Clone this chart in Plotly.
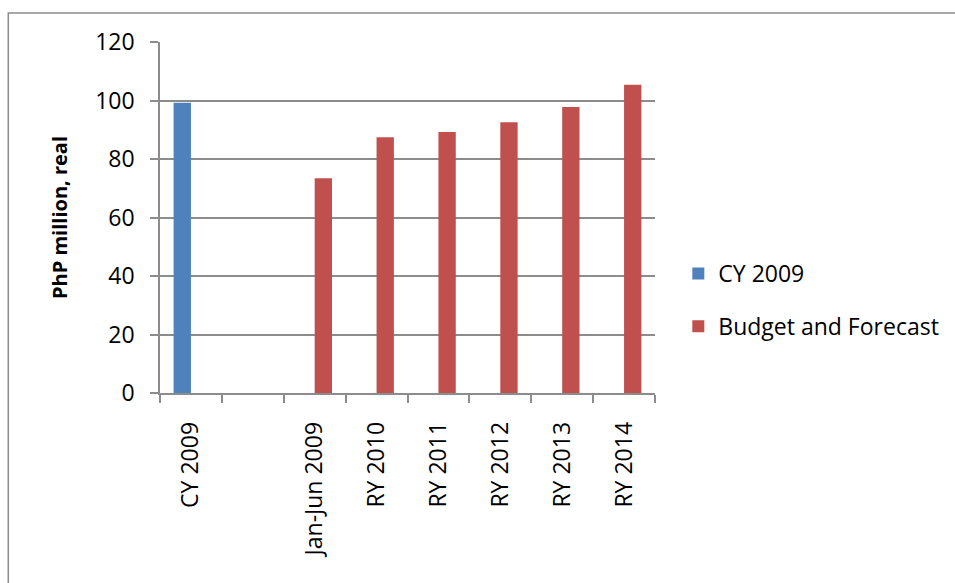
import plotly.graph_objects as go

# Categories along the x axis (one empty slot between the two 2009 groups)
categories = ["CY 2009", " ", "Jan-Jun 2009", "RY 2010", "RY 2011", "RY 2012", "RY 2013", "RY 2014"]

# Series values, PhP million (real)
cy2009 = [99.2, None, None, None, None, None, None, None]
budget_forecast = [None, None, 73.4, 87.4, 89.2, 92.6, 97.8, 105.4]

y_ticks = [0, 20, 40, 60, 80, 100, 120]

FONT = "Open Sans"
GRID = "#8c8c8c"

fig = go.Figure()
fig.add_trace(go.Bar(
    x=categories, y=cy2009, name="CY 2009",
    marker=dict(color="#4F81BD", line=dict(width=0)),
    legendgroup="a",
))
fig.add_trace(go.Bar(
    x=categories, y=budget_forecast, name="Budget and Forecast",
    marker=dict(color="#C0504D", line=dict(width=0)),
    legendgroup="b",
))

fig.update_layout(
    width=955, height=583,
    margin=dict(l=160, r=299, t=42, b=190),
    paper_bgcolor="white", plot_bgcolor="white",
    barmode="group", bargap=0.44, bargroupgap=0,
    font=dict(family=FONT, size=23, color="black"),
    showlegend=True,
    legend=dict(
        x=1.045, y=0.265, xanchor="left", yanchor="middle",
        traceorder="grouped", tracegroupgap=20,
        font=dict(family=FONT, size=23, color="black"),
        bgcolor="rgba(0,0,0,0)",
    ),
    xaxis=dict(
        type="category", categoryorder="array", categoryarray=categories,
        showline=True, linecolor=GRID, linewidth=1.5,
        ticks="outside", tickson="boundaries", ticklen=8, tickcolor=GRID, tickwidth=1.5,
        tickangle=-90, showgrid=False, automargin=False,
        ticklabelstandoff=18,
        tickfont=dict(family=FONT, size=23),
    ),
    yaxis=dict(
        range=[0, 120], tickvals=y_ticks,
        showline=True, linecolor=GRID, linewidth=1.5,
        ticks="outside", ticklen=8, tickcolor=GRID, tickwidth=1.5,
        showgrid=True, gridcolor=GRID, gridwidth=1.5,
        zeroline=False, automargin=False,
        ticklabelstandoff=11,
        tickfont=dict(family=FONT, size=23),
        title=dict(text="<b>PhP million, real</b>", standoff=22,
                   font=dict(family=FONT, size=20)),
    ),
    shapes=[dict(
        type="rect", xref="paper", yref="paper",
        x0=-0.3065, y0=-2, x1=2, y1=1.0826,
        line=dict(color="#8c8c8c", width=1.5), layer="below",
    )],
)

fig.write_html("out.html")
